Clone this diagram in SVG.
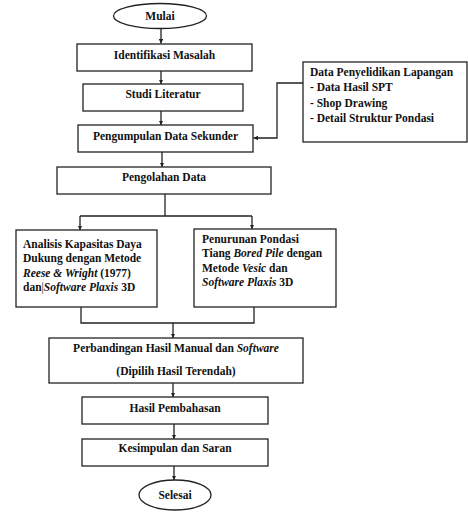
<svg xmlns="http://www.w3.org/2000/svg" width="468" height="512" viewBox="0 0 468 512">
<defs>
<marker id="ah" viewBox="0 0 8 8" refX="8" refY="4" markerWidth="4.5" markerHeight="4.5" markerUnits="userSpaceOnUse" orient="auto">
<path d="M0,0 L8,4 L0,8 z" fill="#222"/>
</marker>
<style>
.b{fill:#fff;stroke:#222;stroke-width:1.3}
.t{font-family:"Liberation Serif","Times New Roman",serif;font-weight:bold;font-size:11.5px;fill:#111}
.c{text-anchor:middle}
.l{fill:none;stroke:#222;stroke-width:1.3}
.a{fill:none;stroke:#222;stroke-width:1.3;marker-end:url(#ah)}
</style>
</defs>
<rect width="468" height="512" fill="#fff"/>
<g id="connectors">
<line class="a" x1="161" y1="28.5" x2="161" y2="43.5"/>
<line class="a" x1="161" y1="71" x2="161" y2="84"/>
<line class="a" x1="161" y1="111" x2="161" y2="125"/>
<line class="a" x1="162" y1="152" x2="162" y2="167"/>
<polyline class="a" points="303,83 277,83 277,138 253.5,138"/>
<polyline class="l" points="165,194 165,216"/>
<polyline class="l" points="80,216 252,216"/>
<line class="a" x1="80" y1="216" x2="80" y2="230"/>
<line class="a" x1="252" y1="216" x2="252" y2="229"/>
<polyline class="l" points="81,307 81,323 254,323 254,307"/>
<line class="a" x1="173" y1="323" x2="173" y2="338"/>
<line class="a" x1="173" y1="383" x2="173" y2="397"/>
<line class="a" x1="174" y1="424" x2="174" y2="439"/>
<line class="a" x1="174" y1="466" x2="174" y2="480"/>
</g>
<g id="mulai">
<ellipse class="b" cx="160" cy="16" rx="46.5" ry="12.5"/>
<text class="t c" x="160" y="20">Mulai</text>
</g>
<g id="identifikasi">
<rect class="b" x="77" y="44" width="175" height="27"/>
<text class="t c" x="164.5" y="59">Identifikasi Masalah</text>
</g>
<g id="studi">
<rect class="b" x="83" y="84" width="160" height="27"/>
<text class="t c" x="163" y="98">Studi Literatur</text>
</g>
<g id="pengumpulan">
<rect class="b" x="78" y="125" width="175" height="27"/>
<text class="t c" x="165.5" y="140">Pengumpulan Data Sekunder</text>
</g>
<g id="lapangan">
<rect class="b" x="303" y="62" width="164" height="80"/>
<text class="t" x="310" y="76">Data Penyelidikan Lapangan</text>
<text class="t" x="310" y="91">-  Data Hasil SPT</text>
<text class="t" x="310" y="107">-  Shop Drawing</text>
<text class="t" x="310" y="122">-  Detail Struktur Pondasi</text>
</g>
<g id="pengolahan">
<rect class="b" x="57" y="167" width="214" height="27"/>
<text class="t c" x="164" y="181">Pengolahan Data</text>
</g>
<g id="analisis">
<rect class="b" x="16" y="230" width="141" height="77"/>
<text class="t" x="23" y="248">Analisis Kapasitas Daya</text>
<text class="t" x="23" y="262">Dukung dengan Metode</text>
<text class="t" x="23" y="277"><tspan font-style="italic">Reese &amp; Wright</tspan> (1977)</text>
<text class="t" x="23" y="291">dan<tspan font-weight="normal">|</tspan><tspan font-style="italic">Software Plaxis</tspan> 3D</text>
</g>
<g id="penurunan">
<rect class="b" x="194" y="229" width="142" height="78"/>
<text class="t" x="202" y="243">Penurunan Pondasi</text>
<text class="t" x="202" y="257">Tiang <tspan font-style="italic">Bored Pile</tspan> dengan</text>
<text class="t" x="202" y="272">Metode <tspan font-style="italic">Vesic</tspan> dan</text>
<text class="t" x="202" y="286"><tspan font-style="italic">Software Plaxis</tspan> 3D</text>
</g>
<g id="perbandingan">
<rect class="b" x="49" y="338" width="254" height="45"/>
<text class="t c" x="176" y="352">Perbandingan Hasil Manual dan <tspan font-style="italic">Software</tspan></text>
<text class="t c" x="176" y="375">(Dipilih Hasil Terendah)</text>
</g>
<g id="hasil">
<rect class="b" x="82" y="397" width="186" height="27"/>
<text class="t c" x="175" y="412">Hasil Pembahasan</text>
</g>
<g id="kesimpulan">
<rect class="b" x="82" y="439" width="186" height="27"/>
<text class="t c" x="175" y="452">Kesimpulan dan Saran</text>
</g>
<g id="selesai">
<ellipse class="b" cx="175" cy="495" rx="36" ry="15"/>
<text class="t c" x="175" y="499">Selesai</text>
</g>
</svg>
